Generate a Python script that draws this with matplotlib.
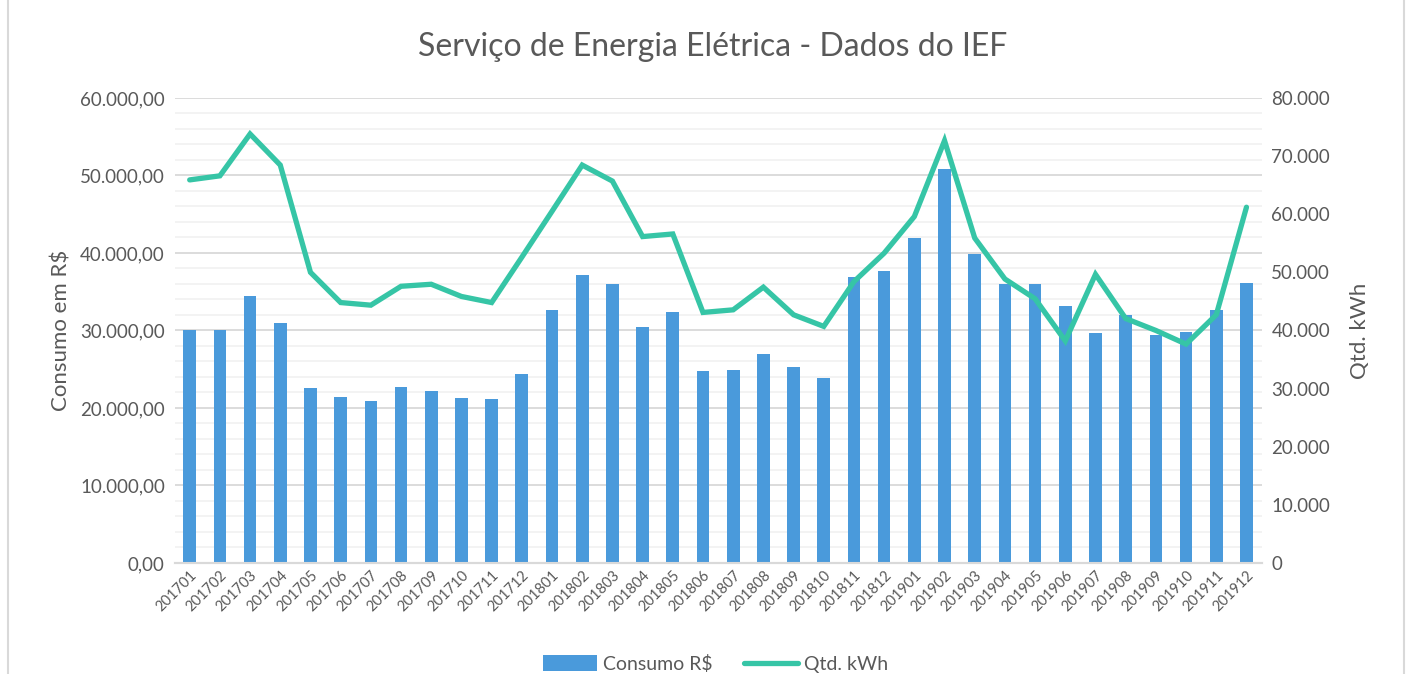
import numpy as np
import matplotlib
matplotlib.use("Agg")
import matplotlib.pyplot as plt
from matplotlib.ticker import FuncFormatter, MultipleLocator
from matplotlib.patches import Rectangle

months = ["201701", "201702", "201703", "201704", "201705", "201706",
          "201707", "201708", "201709", "201710", "201711", "201712",
          "201801", "201802", "201803", "201804", "201805", "201806",
          "201807", "201808", "201809", "201810", "201811", "201812",
          "201901", "201902", "201903", "201904", "201905", "201906",
          "201907", "201908", "201909", "201910", "201911", "201912"]

consumo_rs = [30100, 30000, 34450, 30950, 22550, 21450,
              20900, 22650, 22150, 21300, 21180, 24400,
              32650, 37100, 36050, 30450, 32350, 24800,
              24950, 26900, 25250, 23900, 36950, 37650,
              41950, 50850, 39900, 36000, 36000, 33200,
              29650, 31950, 29400, 29800, 32600, 36150]

qtd_kwh = [65900, 66600, 73800, 68450, 50000, 44800,
           44350, 47600, 47950, 45850, 44800, 52600,
           60500, 68450, 65700, 56150, 56600, 43100,
           43550, 47450, 42700, 40700, 48400, 53300,
           59600, 72650, 55900, 48850, 45450, 38200,
           49650, 42050, 40000, 37650, 42700, 61200]

bar_color = "#4A9ADB"
line_color = "#36C5A6"
text_color = "#595959"
font = "Lato"


def br_format(value, decimals):
    s = f"{value:,.{decimals}f}"
    return s.replace(",", "X").replace(".", ",").replace("X", ".")


fig = plt.figure(figsize=(14.08, 6.74), dpi=100)
plt.rcParams["font.family"] = [font, "DejaVu Sans"]

ax = fig.add_axes([0.124, 0.1647, 0.772, 0.69])
ax2 = ax.twinx()

x = np.arange(len(months))
ax.bar(x, consumo_rs, width=0.42, color=bar_color, zorder=3, label="Consumo R$")
ax2.plot(x, qtd_kwh, color=line_color, lw=3.8, solid_joinstyle="miter",
         solid_capstyle="round", zorder=4, label="Qtd. kWh")

ax.set_xlim(-0.5, len(months) - 0.5)
ax.set_ylim(0, 60000)
ax2.set_ylim(0, 80000)
ax.yaxis.set_major_locator(MultipleLocator(10000))
ax.yaxis.set_minor_locator(MultipleLocator(2000))
ax2.yaxis.set_major_locator(MultipleLocator(10000))
ax.yaxis.set_major_formatter(FuncFormatter(lambda v, p: br_format(v, 2)))
ax2.yaxis.set_major_formatter(FuncFormatter(lambda v, p: br_format(v, 0)))

ax.grid(axis="y", which="major", color="#D9D9D9", lw=1.3, zorder=0)
ax.grid(axis="y", which="minor", color="#F2F2F2", lw=1.3, zorder=0)
ax.set_axisbelow(True)

for a in (ax, ax2):
    for side in ("top", "left", "right"):
        a.spines[side].set_visible(False)
    a.spines["bottom"].set_color("#D9D9D9")
    a.spines["bottom"].set_linewidth(1.5)
    a.tick_params(axis="y", which="both", length=0, labelsize=13.5, colors=text_color, pad=7)

ax.set_xticks(x)
ax.set_xticklabels(months, rotation=45, ha="right", rotation_mode="anchor",
                   fontsize=10.5, color=text_color)
ax.tick_params(axis="x", length=0, pad=4)

ax.set_ylabel("Consumo em R$", fontsize=16, color=text_color, labelpad=6)
ax2.set_ylabel("Qtd. kWh", fontsize=16, color=text_color, labelpad=14)

fig.text(0.506, 0.93, "Serviço de Energia Elétrica - Dados do IEF", ha="center",
         va="center", fontsize=23, color=text_color)

h1, l1 = ax.get_legend_handles_labels()
h2, l2 = ax2.get_legend_handles_labels()
fig.legend(h1 + h2, l1 + l2, loc="center", bbox_to_anchor=(0.508, 0.015), ncol=2,
           frameon=False, fontsize=14, labelcolor=text_color, handlelength=2.8,
           handleheight=0.9, handletextpad=0.3, columnspacing=1.6)

fig.patches.append(Rectangle((0.006, -0.01), 0.991, 1.02, transform=fig.transFigure,
                             fill=False, edgecolor="#D9D9D9", lw=1.5))

fig.savefig("out.png", dpi=100)
